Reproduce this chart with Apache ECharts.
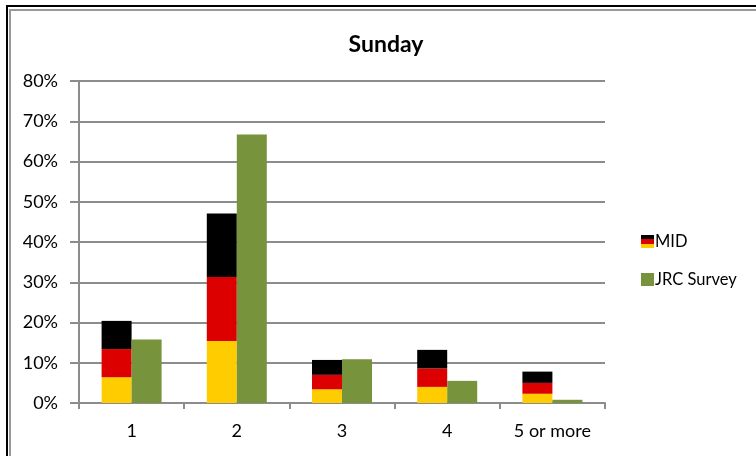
<!DOCTYPE html>
<html><head><meta charset="utf-8">
<script src="https://cdn.jsdelivr.net/npm/echarts@6/dist/echarts.min.js"></script>
<style>html,body{margin:0;padding:0;background:#fff}#c{width:756px;height:456px}</style>
</head><body><div id="c"></div>
<script>
const categories = ['1', '2', '3', '4', '5 or more'];
const midGold  = [6.4, 15.4, 3.4, 4.0, 2.3];
const midRed   = [7.0, 15.9, 3.6, 4.6, 2.7];
const midBlack = [7.0, 15.8, 3.7, 4.6, 2.8];
const jrc      = [15.8, 66.7, 10.9, 5.5, 0.8];
const yTicks = [0, 10, 20, 30, 40, 50, 60, 70, 80];

const FONT = 'Lato, "Open Sans", sans-serif';
const chart = echarts.init(document.getElementById('c'), null, {renderer: 'canvas'});
const midGradient = new echarts.graphic.LinearGradient(0, 0, 0, 1, [
  {offset: 0, color: '#000'}, {offset: 0.333, color: '#000'},
  {offset: 0.334, color: '#DD0000'}, {offset: 0.666, color: '#DD0000'},
  {offset: 0.667, color: '#FFCC00'}, {offset: 1, color: '#FFCC00'}
]);
const barCommon = {type: 'bar', stack: 'mid', barWidth: 30, barGap: '0%', animation: false};
chart.setOption({
  animation: false,
  title: {text: 'Sunday', left: 381, top: 28, textAlign: 'center',
    textStyle: {fontFamily: FONT, fontWeight: 'bold', fontSize: 23, color: '#000'}},
  grid: {left: 79, right: 151, top: 81, bottom: 53},
  legend: {
    orient: 'vertical', left: 636, top: 228, itemWidth: 13, itemHeight: 13, itemGap: 21,
    selectedMode: false,
    textStyle: {fontFamily: FONT, fontSize: 16.5, color: '#000', padding: [0,0,0,-4]},
    data: [
      {name: 'MID', icon: 'rect', itemStyle: {color: midGradient}},
      {name: 'JRC Survey', icon: 'rect'}
    ]
  },
  xAxis: {
    type: 'category', data: categories,
    axisLine: {lineStyle: {color: '#8C8C8C', width: 2}},
    axisTick: {show: true, length: 6, lineStyle: {color: '#8C8C8C', width: 2}},
    axisLabel: {fontFamily: FONT, fontSize: 18, color: '#000', margin: 19}
  },
  yAxis: {
    type: 'value', min: 0, max: 80, interval: 10,
    axisLine: {show: true, lineStyle: {color: '#8C8C8C', width: 2}},
    axisTick: {show: true, length: 9, lineStyle: {color: '#8C8C8C', width: 2}},
    splitLine: {lineStyle: {color: '#8C8C8C', width: 2}},
    axisLabel: {fontFamily: FONT, fontSize: 18, color: '#000', margin: 21,
      formatter: v => yTicks.includes(v) ? v + '%' : ''}
  },
  series: [
    Object.assign({name: 'MID', data: midGold, itemStyle: {color: '#FFCC00'}}, barCommon),
    Object.assign({name: 'MID', data: midRed, itemStyle: {color: '#DD0000'}}, barCommon),
    Object.assign({name: 'MID', data: midBlack, itemStyle: {color: '#000000'}}, barCommon),
    {name: 'JRC Survey', type: 'bar', stack: 'jrc', barWidth: 30, barGap: '0%', data: jrc,
     itemStyle: {color: '#77933C'}}
  ],
  graphic: [
    {type: 'rect', shape: {x: 7, y: 6, width: 760, height: 460}, style: {fill: null, stroke: '#000', lineWidth: 2}, silent: true},
    {type: 'rect', shape: {x: 10, y: 10, width: 760, height: 460}, style: {fill: null, stroke: '#999', lineWidth: 2}, silent: true}
  ]
});
</script></body></html>
